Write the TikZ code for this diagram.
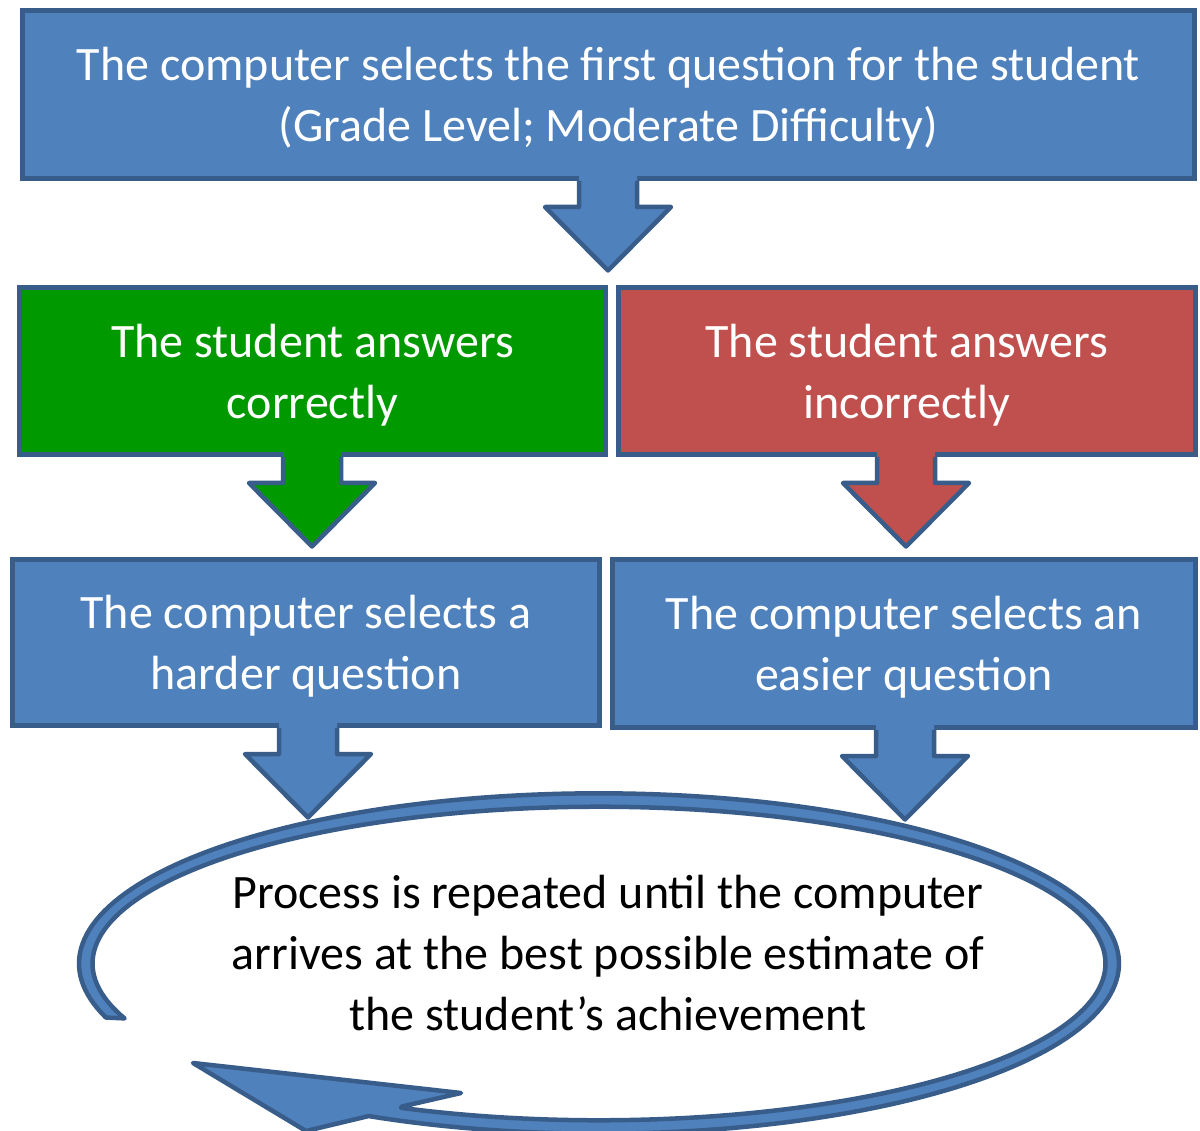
\documentclass[tikz,border=0pt]{standalone}
\usepackage{fontspec}
\setmainfont{Carlito}
\definecolor{bfill}{HTML}{4F81BD}
\definecolor{bline}{HTML}{385D8A}
\definecolor{gfill}{HTML}{009900}
\definecolor{rfill}{HTML}{C0504D}
\tikzset{
  box/.style={draw=bline,line width=4.5pt,rectangle,inner sep=0pt,outer sep=0pt,
    text=white,font=\fontsize{48}{61}\selectfont,align=center,text depth=0pt},
  arrline/.style={draw=bline,line width=4.5pt,line join=round},
  bandstyle/.style={fill=bfill,draw=bline,line width=4.5pt,line join=round}
}
% block arrow hanging below the south anchor #1, filled with #2
\newcommand\blockarrow[2]{%
  \fill[#2] ([shift={(-29,-3)}]#1) -- ([shift={(-29,28.5)}]#1) -- ([shift={(-63,28.5)}]#1)
    -- ([shift={(0,92)}]#1) -- ([shift={(63,28.5)}]#1) -- ([shift={(29,28.5)}]#1)
    -- ([shift={(29,-3)}]#1) -- cycle;
  \draw[arrline] ([shift={(-29,2.3)}]#1) -- ([shift={(-29,28.5)}]#1) -- ([shift={(-63,28.5)}]#1)
    -- ([shift={(0,92)}]#1) -- ([shift={(63,28.5)}]#1) -- ([shift={(29,28.5)}]#1)
    -- ([shift={(29,2.3)}]#1);}
\begin{document}
\begin{tikzpicture}[x=1pt,y=-1pt]
\clip (0,0) rectangle (1200,1131);
\fill[white] (0,0) rectangle (1200,1131);

% boxes
\node[box,fill=bfill,minimum width=1172pt,minimum height=168pt] (first) at (608.5,94.5)
  {The computer selects the first question for the student\\(Grade Level; Moderate Difficulty)};
\node[box,fill=gfill,minimum width=586pt,minimum height=167pt] (correct) at (312.5,371)
  {The student answers\\correctly};
\node[box,fill=rfill,minimum width=577pt,minimum height=167pt] (incorrect) at (907,371)
  {The student answers\\incorrectly};
\node[box,fill=bfill,minimum width=587pt,minimum height=166pt] (harder) at (306,642.5)
  {The computer selects a\\harder question};
\node[box,fill=bfill,minimum width=583pt,minimum height=168pt] (easier) at (904,643.5)
  {The computer selects an\\easier question};

% circular arrow
\filldraw[bandstyle]
  plot[domain=161.5:476.3,samples=200] ({599+520*cos(\x)},{963.5+170.2*sin(\x)})
  -- (306,1131) -- (193,1063) -- (461,1093) -- (402,1106.5)
  -- plot[domain=473:159.5,samples=200] ({599+506.5*cos(\x)},{963.5+156.8*sin(\x)})
  -- cycle;
\node[font=\fontsize{48}{61}\selectfont,align=center,text=black] (process) at (608,953)
  {Process is repeated until the computer\\arrives at the best possible estimate of\\the student’s achievement};

% block arrows
\coordinate (a1) at ([xshift=-0.5pt]first.south);
\blockarrow{a1}{bfill}
\coordinate (a2) at ([xshift=-0.5pt]correct.south);
\blockarrow{a2}{gfill}
\coordinate (a3) at ([xshift=-1pt]incorrect.south);
\blockarrow{a3}{rfill}
\coordinate (a4) at ([xshift=2pt]harder.south);
\blockarrow{a4}{bfill}
\coordinate (a5) at ([xshift=1pt]easier.south);
\blockarrow{a5}{bfill}
\end{tikzpicture}
\end{document}
